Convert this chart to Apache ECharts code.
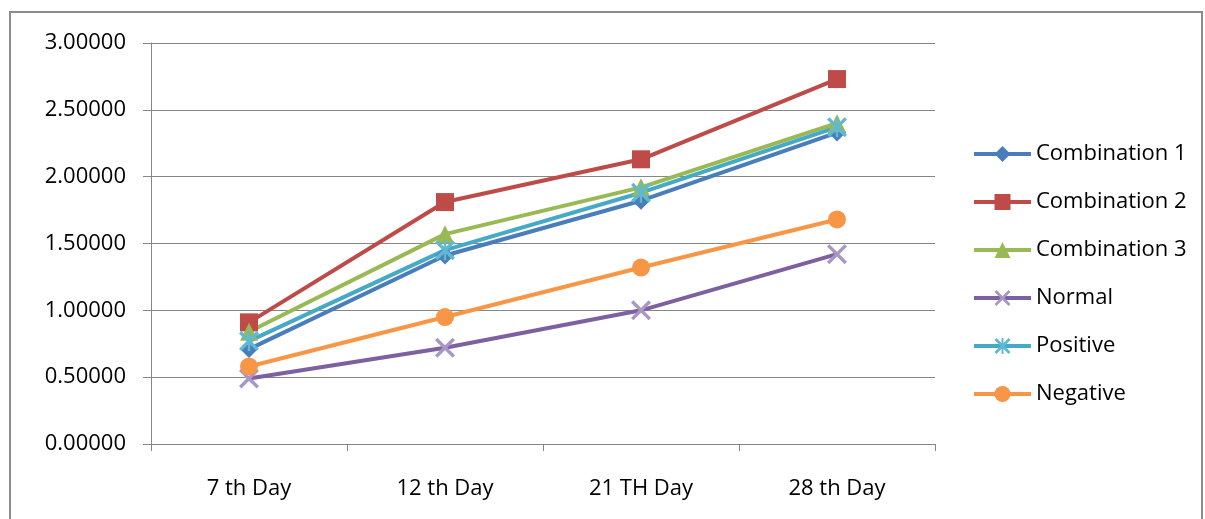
<!DOCTYPE html>
<html>
<head>
<meta charset="utf-8">
<script src="https://cdn.jsdelivr.net/npm/echarts@6/dist/echarts.min.js"></script>
<style>
  html, body { margin: 0; padding: 0; background: #fff; }
  #main { width: 1205px; height: 519px; }
</style>
</head>
<body>
<div id="main"></div>
<script>
const days = ['7 th Day', '12 th Day', '21 TH Day', '28 th Day'];
const yTicks = [0, 0.5, 1, 1.5, 2, 2.5, 3];

const combination1 = [0.71, 1.41, 1.82, 2.33];
const combination2 = [0.91, 1.81, 2.13, 2.73];
const combination3 = [0.84, 1.57, 1.92, 2.40];
const normal = [0.49, 0.72, 1.00, 1.42];
const positive = [0.77, 1.45, 1.88, 2.37];
const negative = [0.58, 0.95, 1.32, 1.68];

const xMark = 'path://M0,1.2 L1.2,0 L10,8.8 L8.8,10 Z M8.8,0 L10,1.2 L1.2,10 L0,8.8 Z';
const starMark = 'path://M0,1.2 L1.2,0 L10,8.8 L8.8,10 Z M8.8,0 L10,1.2 L1.2,10 L0,8.8 Z M4.4,0 L5.6,0 L5.6,10 L4.4,10 Z';

const font = '"Open Sans", sans-serif';

function line(name, data, color, symbol, size, symColor) {
  return {
    name: name,
    type: 'line',
    data: data,
    symbol: symbol,
    symbolSize: size,
    showAllSymbol: true,
    lineStyle: { color: color, width: 4 },
    itemStyle: { color: symColor || color },
    emphasis: { disabled: true },
    z: 2
  };
}

const chart = echarts.init(document.getElementById('main'));
chart.setOption({
  animation: false,
  backgroundColor: '#fff',
  graphic: [{
    type: 'rect',
    shape: { x: 10, y: 12, width: 1192, height: 520 },
    style: { fill: 'none', stroke: '#8c8c8c', lineWidth: 2 },
    silent: true
  }],
  grid: { left: 151, right: 270, top: 43, bottom: 75 },
  legend: {
    orient: 'vertical',
    left: 967,
    top: 134,
    itemWidth: 57,
    itemHeight: 20,
    itemGap: 18,
    lineStyle: { width: 4 },
    textStyle: { fontFamily: font, fontSize: 22, color: '#000', lineHeight: 30 },
    data: ['Combination 1', 'Combination 2', 'Combination 3', 'Normal', 'Positive', 'Negative']
  },
  xAxis: {
    type: 'category',
    data: days,
    boundaryGap: true,
    axisLine: { lineStyle: { color: '#868686', width: 1 } },
    axisTick: { show: true, length: 7, lineStyle: { color: '#868686' } },
    axisLabel: { fontFamily: font, fontSize: 22, color: '#000', margin: 34 }
  },
  yAxis: {
    type: 'value',
    min: 0,
    max: 3,
    interval: 0.5,
    axisLine: { show: true, lineStyle: { color: '#868686', width: 1 } },
    axisTick: { show: true, length: 8, lineStyle: { color: '#868686' } },
    splitLine: { lineStyle: { color: '#868686', width: 1 } },
    axisLabel: {
      fontFamily: font, fontSize: 22, color: '#000', margin: 25,
      formatter: v => yTicks.includes(v) ? v.toFixed(5) : ''
    }
  },
  series: [
    line('Combination 1', combination1, '#4A7EBB', 'diamond', 18),
    line('Combination 2', combination2, '#BE4B48', 'rect', 18),
    line('Combination 3', combination3, '#98B954', 'triangle', 18),
    line('Normal', normal, '#7D60A0', xMark, 20, '#A897C4'),
    line('Positive', positive, '#46AAC5', starMark, 20, '#5FB9D3'),
    line('Negative', negative, '#F79646', 'circle', 18)
  ]
});
</script>
</body>
</html>
